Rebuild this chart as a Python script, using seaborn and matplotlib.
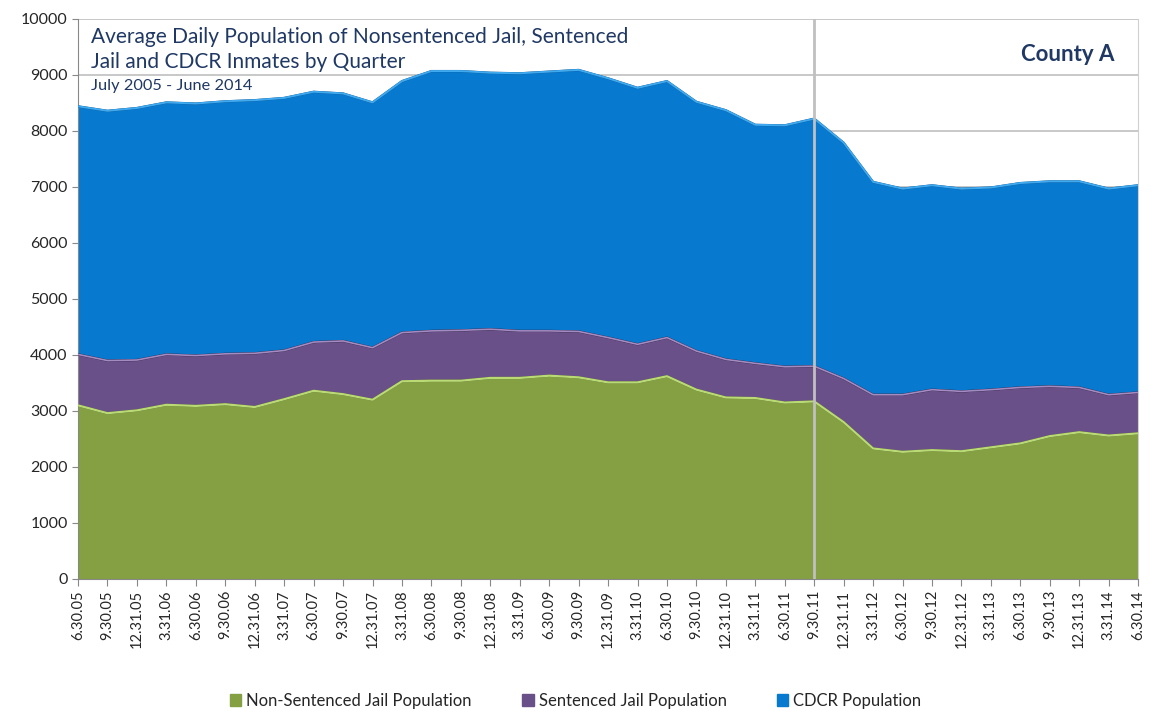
import numpy as np
import pandas as pd
import seaborn as sns
import matplotlib.pyplot as plt
from matplotlib.patches import Patch

quarters = ["6.30.05", "9.30.05", "12.31.05", "3.31.06", "6.30.06", "9.30.06", "12.31.06",
            "3.31.07", "6.30.07", "9.30.07", "12.31.07", "3.31.08", "6.30.08", "9.30.08",
            "12.31.08", "3.31.09", "6.30.09", "9.30.09", "12.31.09", "3.31.10", "6.30.10",
            "9.30.10", "12.31.10", "3.31.11", "6.30.11", "9.30.11", "12.31.11", "3.31.12",
            "6.30.12", "9.30.12", "12.31.12", "3.31.13", "6.30.13", "9.30.13", "12.31.13",
            "3.31.14", "6.30.14"]

# read as cumulative tops of each band
nonsentenced = [3100, 2960, 3010, 3110, 3090, 3120, 3070, 3210, 3360, 3300, 3200, 3530,
                3540, 3540, 3590, 3590, 3630, 3600, 3510, 3510, 3620, 3380, 3240, 3230,
                3150, 3170, 2800, 2330, 2270, 2300, 2280, 2350, 2420, 2550, 2620, 2560, 2600]
jail_top = [4010, 3900, 3910, 4010, 3990, 4020, 4030, 4080, 4230, 4250, 4130, 4400,
            4430, 4440, 4460, 4430, 4430, 4420, 4310, 4190, 4310, 4070, 3920, 3850,
            3790, 3800, 3580, 3290, 3290, 3380, 3350, 3380, 3420, 3440, 3420, 3290, 3330]
total_top = [8440, 8360, 8410, 8510, 8490, 8530, 8550, 8590, 8700, 8670, 8510, 8890,
             9070, 9070, 9040, 9030, 9060, 9090, 8940, 8770, 8890, 8520, 8370, 8110,
             8100, 8220, 7790, 7090, 6970, 7030, 6970, 6990, 7070, 7100, 7100, 6970, 7030]

sentenced = np.array(jail_top) - np.array(nonsentenced)
cdcr = np.array(total_top) - np.array(jail_top)

df = pd.DataFrame({"q": np.arange(len(quarters)),
                   "nonsent": nonsentenced,
                   "sent": sentenced,
                   "cdcr": cdcr})
df["lvl1"] = df["nonsent"]
df["lvl2"] = df["lvl1"] + df["sent"]
df["lvl3"] = df["lvl2"] + df["cdcr"]

sns.set_style("white")
plt.rcParams["font.family"] = ["Lato", "DejaVu Sans"]

green, purple, blue = "#84A043", "#6A5088", "#0779CE"
navy = "#1F3864"

fig = plt.figure(figsize=(11.51, 7.11), dpi=100)
ax = fig.add_axes([0.0678, 0.1857, 0.921, 0.7876])

ax.fill_between(df["q"], 0, df["lvl1"], color=green, lw=0, zorder=2)
ax.fill_between(df["q"], df["lvl1"], df["lvl2"], color=purple, lw=0, zorder=2)
ax.fill_between(df["q"], df["lvl2"], df["lvl3"], color=blue, lw=0, zorder=2)

# bevel-ish edges
sns.lineplot(data=df, x="q", y="lvl1", color="#3E4A1E", lw=1.6, ax=ax, zorder=3)
sns.lineplot(data=df, x="q", y="lvl1", color="#B9DA74", lw=1.6, ax=ax, zorder=4)
sns.lineplot(data=df, x="q", y="lvl2", color="#2E2240", lw=1.6, ax=ax, zorder=3)
sns.lineplot(data=df, x="q", y="lvl2", color="#A58BC4", lw=1.2, ax=ax, zorder=4)
sns.lineplot(data=df, x="q", y="lvl3", color="#0A4E8A", lw=1.6, ax=ax, zorder=3)
sns.lineplot(data=df, x="q", y="lvl3", color="#3FAAF0", lw=1.4, ax=ax, zorder=4)

ax.axvline(25, color="#C0C0C0", lw=2, zorder=5)

ax.set_xlim(0, len(quarters) - 1)
ax.set_ylim(0, 10000)
ax.set_yticks(np.arange(0, 10001, 1000))
ax.set_xticks(df["q"])
ax.set_xticklabels(quarters, rotation=90, fontsize=10.5)
ax.tick_params(axis="y", labelsize=11.5, length=4, color="#888888", direction="out", left=True)
ax.tick_params(axis="x", length=5, color="#888888", direction="out", bottom=True, pad=3)
ax.set_xlabel("")
ax.set_ylabel("")
ax.yaxis.grid(True, color="#BFBFBF", lw=1.2, zorder=0)
ax.set_axisbelow(True)
ax.spines["top"].set_visible(False)
ax.spines["left"].set_color("#888888")
ax.spines["bottom"].set_color("#888888")
ax.spines["right"].set_color("#D0D0D0")

ax.text(0.012, 0.985, "Average Daily Population of Nonsentenced Jail, Sentenced\nJail and CDCR Inmates by Quarter",
        transform=ax.transAxes, fontsize=15, color=navy, va="top", ha="left", linespacing=1.3)
ax.text(0.012, 0.893, "July 2005 - June 2014", transform=ax.transAxes, fontsize=11.8,
        color=navy, va="top", ha="left")
ax.text(0.978, 0.955, "County A", transform=ax.transAxes, fontsize=16, fontweight="bold",
        color=navy, va="top", ha="right")

handles = [Patch(color=green, label="Non-Sentenced Jail Population"),
           Patch(color=purple, label="Sentenced Jail Population"),
           Patch(color=blue, label="CDCR Population")]
fig.legend(handles=handles, loc="lower center", bbox_to_anchor=(0.5, -0.018), ncol=3,
           frameon=False, fontsize=12, handlelength=0.7, handleheight=0.7,
           handletextpad=0.3, columnspacing=3.0)

fig.savefig("out.png", dpi=100)
